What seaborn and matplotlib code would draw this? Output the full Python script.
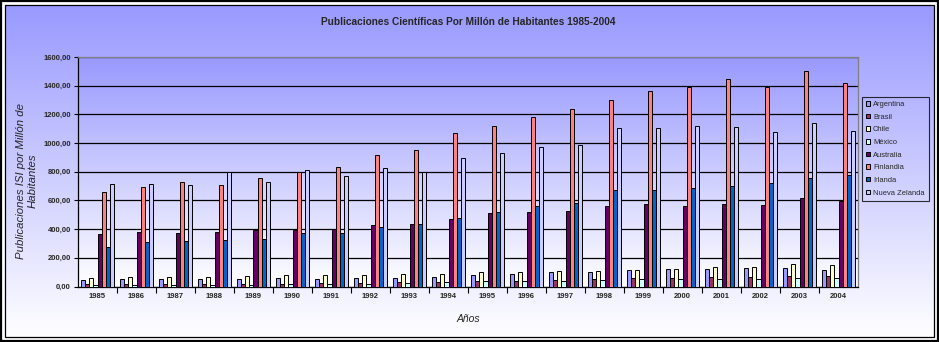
import numpy as np
import pandas as pd
import matplotlib
matplotlib.use("Agg")
import matplotlib.pyplot as plt
import seaborn as sns
from matplotlib.colors import LinearSegmentedColormap
from matplotlib.patches import Rectangle
from matplotlib.ticker import FixedLocator, FuncFormatter

years = [str(y) for y in range(1985, 2005)]
countries = ["Argentina", "Brasil", "Chile", "México", "Australia", "Finlandia", "Irlanda", "Nueva Zelanda"]
colors = ["#9999FF", "#993366", "#FFFFCC", "#CCFFFF", "#660066", "#FF8080", "#0066CC", "#CCCCFF"]

argentina = [47, 51, 54, 54, 54, 61, 54, 61, 60, 67, 79, 84, 100, 100, 114, 119, 119, 126, 126, 112]
brasil = [14, 19, 19, 19, 19, 19, 26, 26, 28, 28, 40, 37, 44, 51, 56, 56, 63, 63, 70, 70]
chile = [58, 68, 68, 68, 75, 82, 82, 82, 88, 84, 100, 100, 107, 107, 114, 119, 133, 133, 160, 147]
mexico = [9, 12, 12, 12, 12, 16, 16, 19, 23, 28, 35, 37, 37, 44, 51, 49, 49, 49, 56, 56]
australia = [368, 382, 375, 378, 396, 396, 403, 427, 437, 468, 509, 516, 523, 561, 572, 561, 572, 568, 614, 596]
finlandia = [662, 697, 732, 711, 753, 795, 830, 914, 954, 1068, 1119, 1179, 1235, 1298, 1361, 1389, 1444, 1393, 1500, 1417]
irlanda = [277, 312, 319, 326, 333, 375, 375, 417, 437, 481, 516, 558, 579, 670, 670, 684, 698, 719, 754, 775]
nueva_zelanda = [716, 718, 711, 795, 730, 809, 767, 823, 798, 893, 928, 970, 984, 1103, 1103, 1117, 1110, 1077, 1137, 1084]

series = [argentina, brasil, chile, mexico, australia, finlandia, irlanda, nueva_zelanda]

rows = []
for c, vals in zip(countries, series):
    for y, v in zip(years, vals):
        rows.append({"Año": y, "País": c, "Valor": v})
df = pd.DataFrame(rows)

sns.set_theme(style="white")
plt.rcParams["font.family"] = ["Liberation Sans", "DejaVu Sans"]

W, H = 939, 342
fig = plt.figure(figsize=(W / 100, H / 100), dpi=100)
fig.patch.set_facecolor("white")

grad_cmap = LinearSegmentedColormap.from_list("g", ["#FFFFFF", "#9999FF"])
grad = np.linspace(0, 1, 256).reshape(-1, 1)

# chart-area background gradient
ax_bg = fig.add_axes([0, 0, 1, 1], zorder=-10)
ax_bg.imshow(grad, aspect="auto", cmap=grad_cmap, origin="lower",
             extent=[5, W - 5, 5, H - 5], interpolation="bilinear")
ax_bg.set_xlim(0, W)
ax_bg.set_ylim(0, H)
ax_bg.add_patch(Rectangle((1, 1), W - 2, H - 2, fill=False, edgecolor="black", lw=1.6))
ax_bg.add_patch(Rectangle((5, 5), W - 10, H - 10, fill=False, edgecolor="black", lw=0.9))
ax_bg.axis("off")

left, right, top, bottom = 78, 858, 57, 286.5
ax = fig.add_axes([left / W, 1 - bottom / H, (right - left) / W, (bottom - top) / H])
ax.set_facecolor("none")

sns.barplot(data=df, x="Año", y="Valor", hue="País", hue_order=countries,
            palette=colors, width=0.85, edgecolor="black", linewidth=0.7,
            saturation=1, ax=ax, legend=True, zorder=3)

ax.imshow(grad, aspect="auto", cmap=grad_cmap, origin="lower",
          extent=[-0.5, 19.5, 0, 1600], interpolation="bilinear", zorder=-1)
ax.set_xlim(-0.5, 19.5)
ax.set_ylim(0, 1600)

ax.set_yticks(np.arange(0, 1601, 200))
ax.yaxis.set_major_formatter(FuncFormatter(lambda v, p: f"{v:.2f}".replace(".", ",")))
ax.yaxis.grid(True, color="black", lw=0.9)
ax.xaxis.grid(False)
ax.set_axisbelow(True)

ax.tick_params(axis="y", which="major", direction="out", length=3, width=0.8, color="black",
               labelsize=5.5, pad=2, left=True)
ax.tick_params(axis="x", which="major", length=0, labelsize=5.5, pad=5)
ax.xaxis.set_minor_locator(FixedLocator(np.arange(0.5, 19.5, 1.0)))
ax.tick_params(axis="x", which="minor", direction="out", length=4, width=0.8, color="black", bottom=True)
for lab in ax.get_xticklabels() + ax.get_yticklabels():
    lab.set_fontweight("bold")

for s in ["left", "bottom"]:
    ax.spines[s].set_color("black")
    ax.spines[s].set_linewidth(0.9)
for s in ["top", "right"]:
    ax.spines[s].set_color("#808080")
    ax.spines[s].set_linewidth(0.9)

ax.set_xlabel("Años", fontsize=7.5, style="italic")
ax.set_ylabel("Publicaciones ISI por Millón de\nHabitantes", fontsize=8.2, style="italic",
              linespacing=1.15)
ax.xaxis.set_label_coords(0.5, -0.12)
ax.yaxis.set_label_coords(-0.052, 0.46)

fig.text(0.4985, 1 - 22 / H, "Publicaciones Científicas Por Millón de Habitantes 1985-2004",
         ha="center", va="center", fontsize=7.3, fontweight="bold")

handles, labels = ax.get_legend_handles_labels()
if ax.legend_:
    ax.legend_.remove()
leg = fig.legend(handles, labels, loc="upper left",
                 bbox_to_anchor=(862 / W, 1 - 97 / H), bbox_transform=fig.transFigure,
                 fontsize=5.4, frameon=True, fancybox=False, borderaxespad=0,
                 handlelength=0.55, handleheight=0.55, handletextpad=0.35,
                 labelspacing=0.75, borderpad=0.55)
leg.get_frame().set_edgecolor("black")
leg.get_frame().set_linewidth(0.8)
leg.get_frame().set_facecolor("none")

fig.savefig("out.png", dpi=100)
